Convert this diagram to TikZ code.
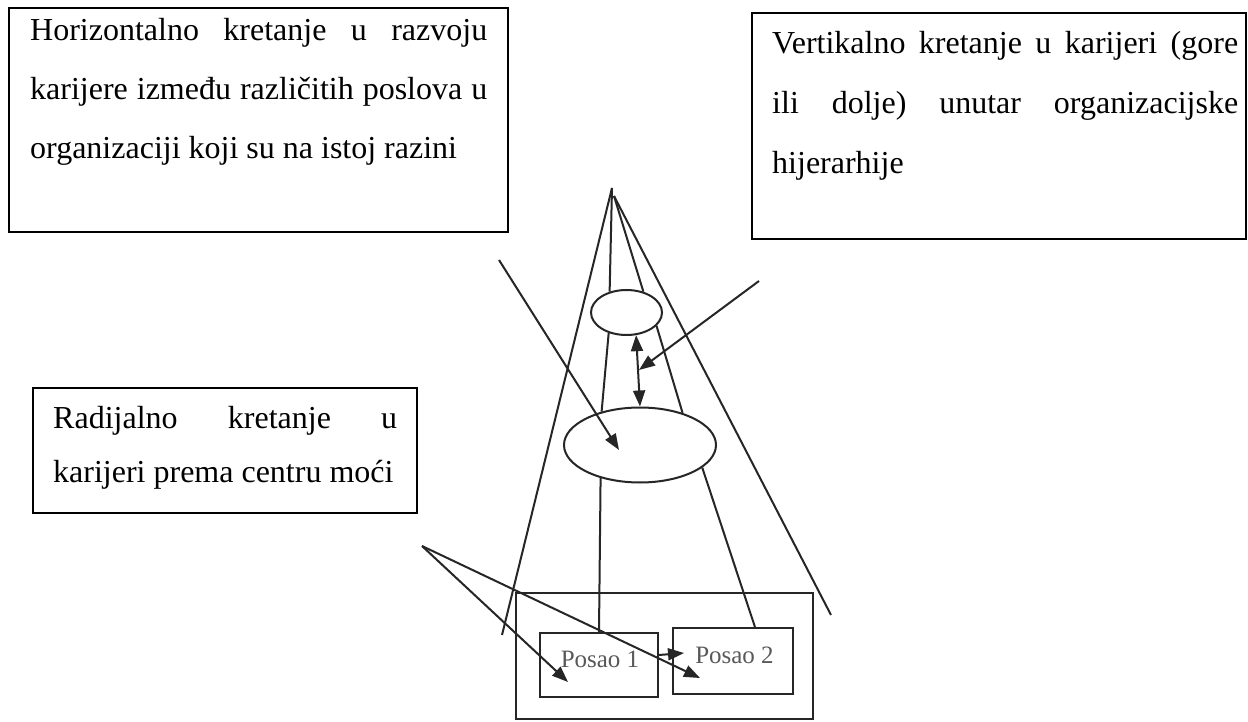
\documentclass[tikz,border=0pt]{standalone}
\usepackage{fontspec}
\setmainfont{Liberation Serif}
\usetikzlibrary{arrows.meta,calc,shapes.geometric}
\hyphenpenalty=10000
\exhyphenpenalty=10000
\begin{document}
\begin{tikzpicture}[x=1pt,y=-1pt,
  ln/.style={line width=2pt, draw=black!85},
  tip/.tip={Triangle[length=16pt,width=12pt]},
  arr/.style={ln, -tip},
  dbl/.style={ln, tip-tip},
  frame/.style={draw=black, line width=2pt, rectangle, inner sep=0pt},
  txt/.style={inner sep=0pt, anchor=north west, align=justify},
  oval/.style={ellipse, draw=black!85, line width=2pt, inner sep=0pt},
  jobbox/.style={draw=black!85, line width=2pt, rectangle, inner sep=0pt},
  jobtxt/.style={inner sep=0pt, font=\fontsize{25}{28}\selectfont, text=black!65}
]
\fill[white] (0,0) rectangle (1248,722);
\useasboundingbox (0,0) rectangle (1248,722);

% text boxes
\node[frame, minimum width=499pt, minimum height=224pt] (b1) at (258.5,120) {};
\node[txt, text width=457pt, font=\fontsize{32}{59}\selectfont] (t1) at (30,16)
  {\noindent\rule{0pt}{24pt}Horizontalno kretanje u razvoju\linebreak karijere između različitih poslova u\linebreak organizaciji koji su na istoj razini};

\node[frame, minimum width=494pt, minimum height=226pt] (b2) at (999,126) {};
\node[txt, text width=466pt, font=\fontsize{32}{60}\selectfont] (t2) at (772,29)
  {\noindent\rule{0pt}{24pt}Vertikalno kretanje u karijeri (gore\linebreak ili dolje) unutar organizacijske\linebreak hijerarhije};

\node[frame, minimum width=384pt, minimum height=125pt] (b3) at (225,450.5) {};
\node[txt, text width=344pt, font=\fontsize{32}{54}\selectfont] (t3) at (53,404)
  {\noindent\rule{0pt}{24pt}Radijalno kretanje u\linebreak karijeri prema centru moći};

% hierarchy
\node[oval, minimum width=71pt, minimum height=45pt] (s) at (626.5,312.5) {};
\node[oval, minimum width=152pt, minimum height=75pt] (b) at (640,445) {};

\node[jobbox, minimum width=297pt, minimum height=126pt] (org) at (664.5,656) {};
\node[jobbox, minimum width=118pt, minimum height=64pt] (p1) at (599,665) {};
\node[jobbox, minimum width=120pt, minimum height=66pt] (p2) at (733,661) {};
\node[jobtxt] (l1) at (600,659) {Posao 1};
\node[jobtxt] (l2) at (734.5,655) {Posao 2};

\coordinate (apex) at (612,188);
\coordinate (apexr) at (614,196);
\coordinate (el) at (502,635);
\coordinate (er) at (831,615);
\coordinate (cR) at (759,281);
\coordinate (vm) at (639,370);
\coordinate (cL) at (499,260);
\coordinate (bt) at (619,450);
\coordinate (L) at (422,546);
\coordinate (t1p) at (568,682);
\coordinate (t2p) at (700,678);

\draw[ln] (apex) -- (el);
\draw[ln] (apex) -- (s.129);
\draw[ln] (apexr) -- (s.51);
\draw[ln] (apexr) -- (er);
\draw[ln] (s.229) -- (b.139);
\draw[ln] (s.336) -- (b.37);
\draw[dbl] (s.293) -- (b.north);
\draw[arr] (cR) -- (vm);
\draw[arr] (cL) -- (bt);
\draw[ln] (b.220) -- (p1.north);
\draw[ln] (b.340) -- ($(p2.north west)!0.68!(p2.north east)$);
\draw[arr] ($(p1.east)+(0,-10)$) -- ($(p2.west)+(12,-8)$);
\draw[arr] (L) -- (t1p);
\draw[arr] (L) -- (t2p);
\end{tikzpicture}
\end{document}
